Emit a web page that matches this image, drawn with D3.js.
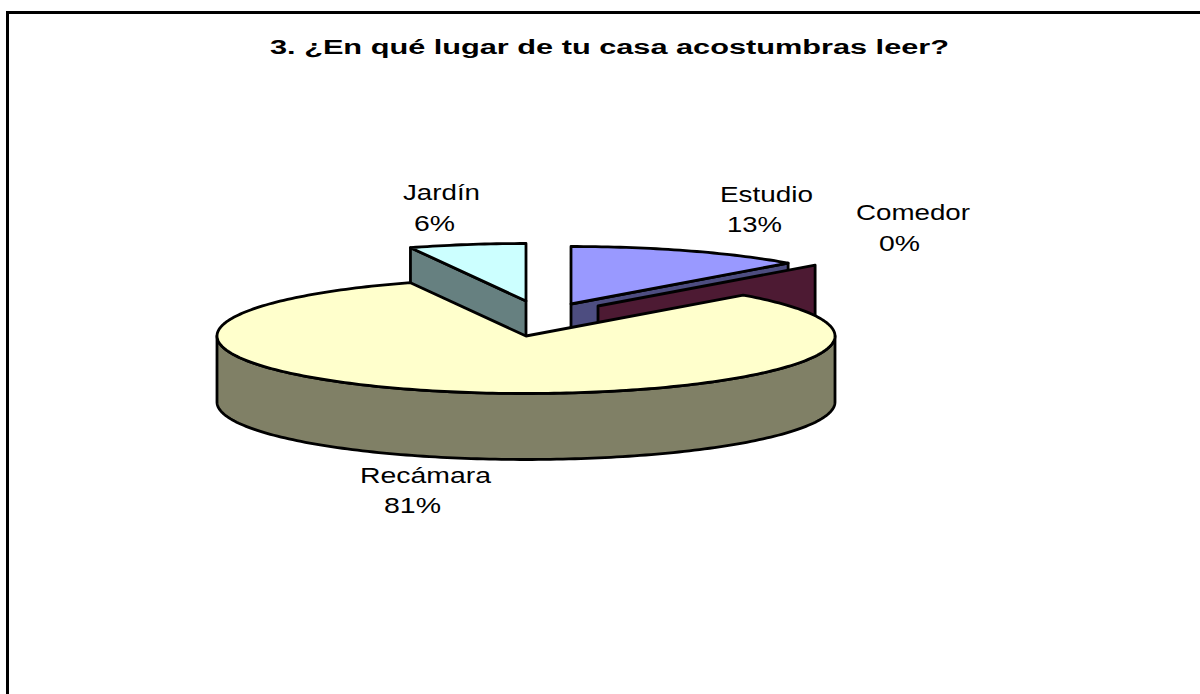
<!DOCTYPE html>
<html><head><meta charset="utf-8">
<script src="https://cdn.jsdelivr.net/npm/d3@7/dist/d3.min.js"></script>
<style>html,body{margin:0;padding:0;background:#fff}svg{display:block}text{font-family:"Liberation Sans",Arial,sans-serif;fill:#000}</style>
</head><body><svg id="c" width="1200" height="694"></svg>
<script>
const titleText = "3. ¿En qué lugar de tu casa acostumbras leer?";
const categories = ["Estudio","Comedor","Recámara","Jardín"];
const values = [12.4,0,81.5,6.1];
const percentLabels = ["13%","0%","81%","6%"];
const topColors = ["#9999ff","#993366","#ffffcc","#ccffff"];
const wallColors = ["#4d4d80","#4d1a33","#808066","#668080"];
const explodeX = [45,72,0,0];
const explodeY = [-32,-30,0,-35];
const labelX = [[720,813],[856,970],[360,491],[403,480]];
const labelY = [202,220,483,200];
const pctX = [[727,782],[879,920],[384,441],[414,455]];
const pctY = [232,251,513,231];

const cx=526, cy=336, rx=309, ry=57.5, depth=66;
const svg=d3.select("#c");
const arcs=d3.pie().sort(null).value(d=>d)(values);

function pt(a,dx,dy,yo=0){return [cx+dx+rx*Math.sin(a),cy+dy-ry*Math.cos(a)+yo];}
function rimPts(a0,a1,dx,dy,yo=0){
  const n=Math.max(2,Math.ceil(Math.abs(a1-a0)/0.02));
  return d3.range(n+1).map(i=>pt(a0+(a1-a0)*i/n,dx,dy,yo));
}
const line=d3.line();
function styled(sel,fill){return sel.attr("fill",fill).attr("stroke","#000").attr("stroke-width",2.8).attr("stroke-linejoin","round");}

// Frame: only the top and left rules are inside the picture
svg.append("path").attr("d","M7.5,694V12.5H1200").attr("fill","none").attr("stroke","#000").attr("stroke-width",3);

// Back-to-front: Jardín, Estudio, Comedor, Recámara
[3,0,1,2].forEach(i=>{
  const s=arcs[i], dx=explodeX[i], dy=explodeY[i], g=svg.append("g");
  const apex=[cx+dx,cy+dy];
  if(i===2){
    const a=rimPts(Math.PI/2,3*Math.PI/2,dx,dy);
    const b=rimPts(3*Math.PI/2,Math.PI/2,dx,dy,depth);
    styled(g.append("path").attr("d",line(a.concat(b))+"Z"),wallColors[i]);
  } else {
    const edge=i===3?s.startAngle:s.endAngle;
    const p=pt(edge,dx,dy);
    styled(g.append("path").attr("d",line([apex,p,[p[0],p[1]+depth],[apex[0],apex[1]+depth]])+"Z"),wallColors[i]);
  }
  if(s.endAngle>s.startAngle){
    const top=[apex].concat(rimPts(s.startAngle,s.endAngle,dx,dy));
    styled(g.append("path").attr("d",line(top)+"Z"),topColors[i]);
  }
});

// Labels (the reference is stretched horizontally, so widths are fitted)
function fitted(t,y,span,size,weight){
  svg.append("text").text(t).attr("x",span[0]).attr("y",y)
    .attr("font-size",size).attr("font-weight",weight)
    .attr("textLength",span[1]-span[0]).attr("lengthAdjust","spacingAndGlyphs");
}
fitted(titleText,54,[270,949],20,"bold");
categories.forEach((c,i)=>{
  fitted(c,labelY[i],labelX[i],22,"normal");
  fitted(percentLabels[i],pctY[i],pctX[i],22,"normal");
});
</script></body></html>
